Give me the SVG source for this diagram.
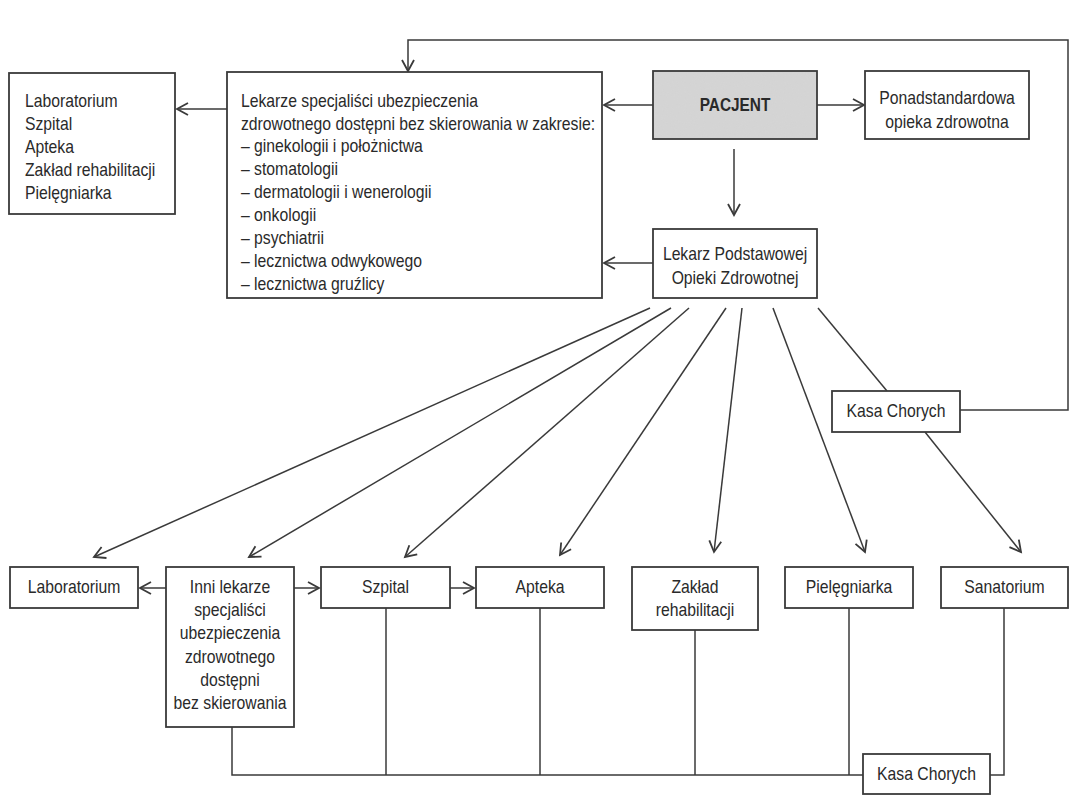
<svg xmlns="http://www.w3.org/2000/svg" width="1080" height="810" viewBox="0 0 1080 810">
<defs>
<marker id="ah" markerUnits="userSpaceOnUse" markerWidth="16" markerHeight="16" viewBox="-13 -8 16 16" refX="0" refY="0" orient="auto">
<path d="M-11,-6 L0,0 L-11,6" fill="none" stroke="#3a3a3a" stroke-width="1.8"/>
</marker>
<filter id="grain" x="0" y="0" width="100%" height="100%">
<feTurbulence type="fractalNoise" baseFrequency="0.9" numOctaves="2" seed="3" result="n"/>
<feColorMatrix in="n" type="matrix" values="0 0 0 0 0.72  0 0 0 0 0.72  0 0 0 0 0.72  0 0 0 0.5 0" result="c"/>
<feComposite in="c" in2="SourceGraphic" operator="in"/>
</filter>
</defs>
<style>
.box{fill:#fff;stroke:#3a3a3a;stroke-width:1.8}
.t{font-family:"Liberation Sans",Arial,sans-serif;font-size:17.5px;fill:#2a2a2a}
.c{text-anchor:middle}
.ln{fill:none;stroke:#3a3a3a;stroke-width:1.5}
.ar{marker-end:url(#ah)}
</style>
<rect width="1080" height="810" fill="#fff"/>

<g id="connectors">
<line class="ln ar" x1="653" y1="105" x2="604" y2="105"/>
<line class="ln ar" x1="817" y1="105" x2="864" y2="105"/>
<line class="ln ar" x1="734" y1="149" x2="734" y2="215"/>
<line class="ln ar" x1="653" y1="263" x2="604" y2="263"/>
<line class="ln ar" x1="227" y1="109" x2="177" y2="109"/>
<polyline class="ln ar" points="960,410 1068,410 1068,40 408,40 408,71"/>
<line class="ln ar" x1="650" y1="308" x2="94" y2="557"/>
<line class="ln ar" x1="671" y1="308" x2="249" y2="557"/>
<line class="ln ar" x1="689" y1="308" x2="405" y2="557"/>
<line class="ln ar" x1="726" y1="308" x2="560" y2="555"/>
<line class="ln ar" x1="742" y1="308" x2="714" y2="552"/>
<line class="ln ar" x1="773" y1="308" x2="865" y2="552"/>
<line class="ln" x1="818" y1="308" x2="887" y2="391"/>
<line class="ln ar" x1="925" y1="432" x2="1021" y2="552"/>
<line class="ln ar" x1="166" y1="588" x2="140" y2="588"/>
<line class="ln ar" x1="294" y1="588" x2="319" y2="588"/>
<line class="ln ar" x1="450" y1="588" x2="474" y2="588"/>
<polyline class="ln" points="232,727 232,775 863,775"/>
<line class="ln" x1="386" y1="608" x2="386" y2="775"/>
<line class="ln" x1="540" y1="608" x2="540" y2="775"/>
<line class="ln" x1="695" y1="630" x2="695" y2="775"/>
<line class="ln" x1="849" y1="608" x2="849" y2="775"/>
<polyline class="ln" points="1004,608 1004,775 990,775"/>
</g>

<g id="lista-uslug">
<rect class="box" x="9" y="73" width="166" height="141"/>
<g transform="translate(25,0) scale(0.9,1)">
<text class="t" x="0" y="107">Laboratorium</text>
<text class="t" x="0" y="130">Szpital</text>
<text class="t" x="0" y="153">Apteka</text>
<text class="t" x="0" y="176">Zakład rehabilitacji</text>
<text class="t" x="0" y="199">Pielęgniarka</text>
</g>
</g>

<g id="specjalisci">
<rect class="box" x="227" y="72" width="375" height="226"/>
<g transform="translate(241,0) scale(0.9,1)">
<text class="t" x="0" y="107">Lekarze specjaliści ubezpieczenia</text>
<text class="t" x="0" y="130">zdrowotnego dostępni bez skierowania w zakresie:</text>
<text class="t" x="0" y="152">– ginekologii i położnictwa</text>
<text class="t" x="0" y="175">– stomatologii</text>
<text class="t" x="0" y="198">– dermatologii i wenerologii</text>
<text class="t" x="0" y="221">– onkologii</text>
<text class="t" x="0" y="244">– psychiatrii</text>
<text class="t" x="0" y="267">– lecznictwa odwykowego</text>
<text class="t" x="0" y="290">– lecznictwa gruźlicy</text>
</g>
</g>

<g id="pacjent">
<rect x="653" y="71" width="164" height="68" fill="#d3d3d3" stroke="#3a3a3a" stroke-width="1.8"/>
<rect x="654" y="72" width="162" height="66" fill="#fff" filter="url(#grain)" opacity="0.5"/>
<g transform="translate(735,0) scale(0.88,1)">
<text class="t c" x="0" y="111" font-weight="bold">PACJENT</text>
</g>
</g>

<g id="ponadstandardowa">
<rect class="box" x="865" y="71" width="164" height="68"/>
<g transform="translate(947,0) scale(0.9,1)">
<text class="t c" x="0" y="104">Ponadstandardowa</text>
<text class="t c" x="0" y="128">opieka zdrowotna</text>
</g>
</g>

<g id="lekarz-poz">
<rect class="box" x="653" y="229" width="164" height="69"/>
<g transform="translate(735,0) scale(0.9,1)">
<text class="t c" x="0" y="260">Lekarz Podstawowej</text>
<text class="t c" x="0" y="284">Opieki Zdrowotnej</text>
</g>
</g>

<g id="kasa-chorych-1">
<rect class="box" x="832" y="391" width="128" height="41"/>
<g transform="translate(896,0) scale(0.9,1)">
<text class="t c" x="0" y="417">Kasa Chorych</text>
</g>
</g>

<g id="laboratorium">
<rect class="box" x="10" y="567" width="128" height="41"/>
<g transform="translate(74,0) scale(0.9,1)">
<text class="t c" x="0" y="593">Laboratorium</text>
</g>
</g>

<g id="inni-lekarze">
<rect class="box" x="166" y="567" width="128" height="160"/>
<g transform="translate(230,0) scale(0.9,1)">
<text class="t c" x="0" y="593">Inni lekarze</text>
<text class="t c" x="0" y="616">specjaliści</text>
<text class="t c" x="0" y="639">ubezpieczenia</text>
<text class="t c" x="0" y="663">zdrowotnego</text>
<text class="t c" x="0" y="686">dostępni</text>
<text class="t c" x="0" y="709">bez skierowania</text>
</g>
</g>

<g id="szpital">
<rect class="box" x="321" y="567" width="129" height="41"/>
<g transform="translate(385.5,0) scale(0.9,1)">
<text class="t c" x="0" y="593">Szpital</text>
</g>
</g>

<g id="apteka">
<rect class="box" x="476" y="567" width="128" height="41"/>
<g transform="translate(540,0) scale(0.9,1)">
<text class="t c" x="0" y="593">Apteka</text>
</g>
</g>

<g id="zaklad">
<rect class="box" x="632" y="567" width="126" height="63"/>
<g transform="translate(695,0) scale(0.9,1)">
<text class="t c" x="0" y="593">Zakład</text>
<text class="t c" x="0" y="616">rehabilitacji</text>
</g>
</g>

<g id="pielegniarka">
<rect class="box" x="785" y="567" width="128" height="41"/>
<g transform="translate(849,0) scale(0.9,1)">
<text class="t c" x="0" y="593">Pielęgniarka</text>
</g>
</g>

<g id="sanatorium">
<rect class="box" x="941" y="567" width="127" height="41"/>
<g transform="translate(1004.5,0) scale(0.9,1)">
<text class="t c" x="0" y="593">Sanatorium</text>
</g>
</g>

<g id="kasa-chorych-2">
<rect class="box" x="863" y="754" width="127" height="40"/>
<g transform="translate(926.5,0) scale(0.9,1)">
<text class="t c" x="0" y="780">Kasa Chorych</text>
</g>
</g>
</svg>
